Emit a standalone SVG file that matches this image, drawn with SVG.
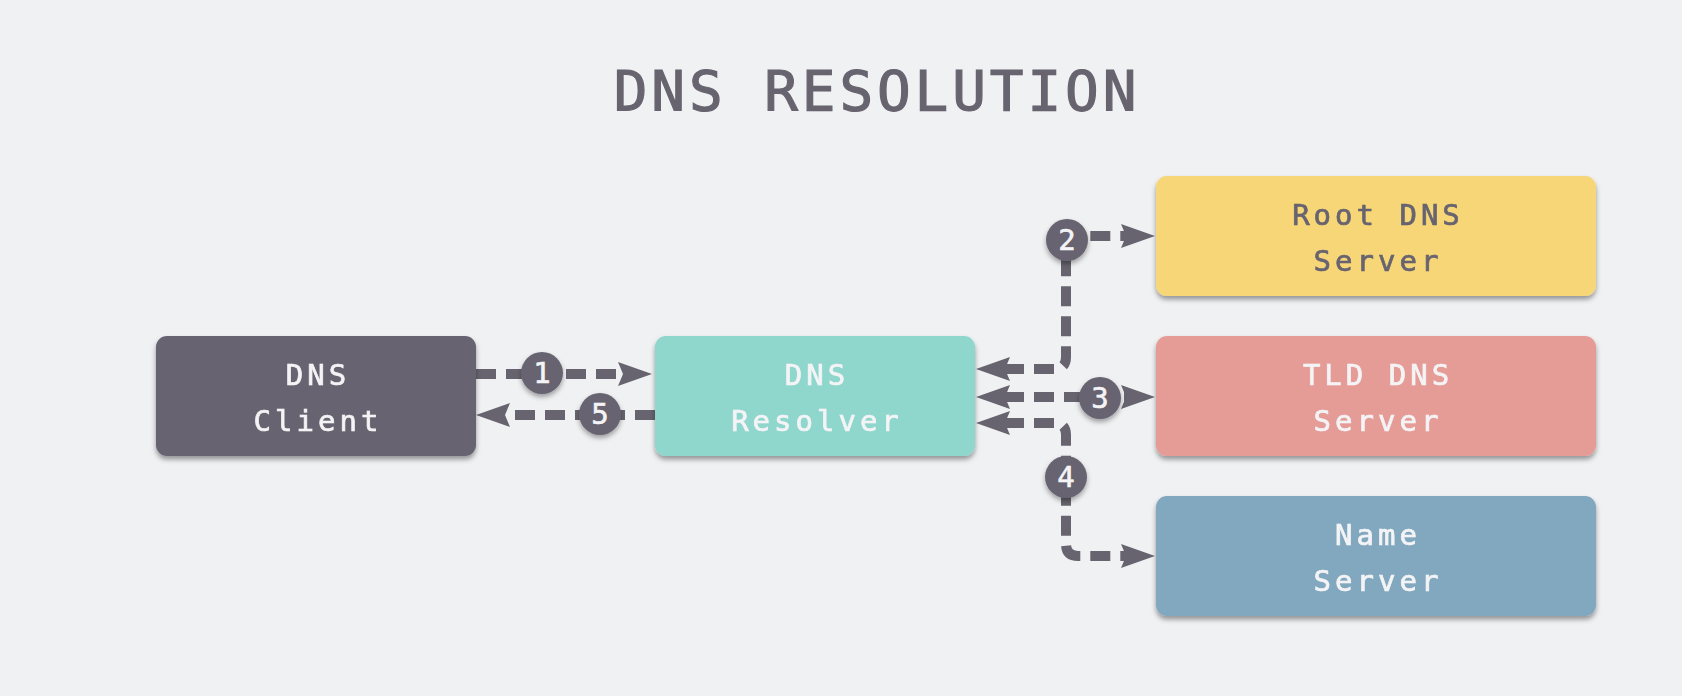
<svg xmlns="http://www.w3.org/2000/svg" width="1682" height="696" viewBox="0 0 1682 696">
<defs>
<style>
.bg{fill:#f0f1f3}
.title{font-family:"DejaVu Sans Mono","Liberation Mono",monospace;font-size:56px;letter-spacing:3.9px;fill:#67646f;stroke:#67646f;stroke-width:1.2px;text-anchor:middle}
.lbl{font-family:"DejaVu Sans Mono","Liberation Mono",monospace;font-size:29px;letter-spacing:4px;text-anchor:middle;stroke-width:0.7px}
.light{fill:#f4f4f6;stroke:#f4f4f6}
.dark{fill:#67646f;stroke:#67646f}
.node{filter:url(#sh)}
.conn{fill:none;stroke:#67646f;stroke-width:10;stroke-dasharray:20 10;marker-end:url(#ah)}
.both{marker-start:url(#ah)}
.badge{fill:#67646f;filter:url(#sh2)}
.num{font-family:"DejaVu Sans Mono","Liberation Mono",monospace;font-size:29px;fill:#f4f4f6;stroke:#f4f4f6;stroke-width:0.6px;text-anchor:middle}
</style>
<filter id="sh" x="-10%" y="-20%" width="120%" height="150%">
<feDropShadow dx="0" dy="3.5" stdDeviation="2.5" flood-color="#000" flood-opacity="0.38"/>
</filter>
<filter id="sh2" x="-50%" y="-50%" width="200%" height="200%">
<feDropShadow dx="0" dy="3" stdDeviation="2.5" flood-color="#000" flood-opacity="0.35"/>
</filter>
<marker id="ah" markerUnits="userSpaceOnUse" markerWidth="36" markerHeight="26" refX="6" refY="12" orient="auto-start-reverse" overflow="visible">
<path d="M0,0 L34,12 L0,24 L5,12 Z" fill="#67646f"/>
</marker>
</defs>
<rect class="bg" x="0" y="0" width="1682" height="696"/>
<text class="title" x="877" y="110">DNS RESOLUTION</text>

<g id="connectors">
<path id="c1" class="conn" d="M476,374 L624,374"/>
<path id="c5" class="conn" d="M655,415 L504,415"/>
<path id="c2" class="conn both" d="M1004,369 H1054 Q1066,369 1066,357 V248 Q1066,236 1078,236 H1127"/>
<path id="c3" class="conn both" d="M1004,397 H1127"/>
<path id="c4" class="conn both" d="M1004,423 H1054 Q1066,423 1066,435 V544 Q1066,556 1078,556 H1127"/>
</g>

<g id="node-client" class="node">
<rect x="156" y="336" width="320" height="120" rx="11" fill="#67646f"/>
<text class="lbl light" x="318" y="385">DNS</text>
<text class="lbl light" x="318" y="431">Client</text>
</g>
<g id="node-resolver" class="node">
<rect x="655" y="336" width="320" height="120" rx="11" fill="#8fd6cd"/>
<text class="lbl light" x="817" y="385">DNS</text>
<text class="lbl light" x="817" y="431">Resolver</text>
</g>
<g id="node-root" class="node">
<rect x="1156" y="176" width="440" height="120" rx="11" fill="#f7d677"/>
<text class="lbl dark" x="1378" y="225">Root DNS</text>
<text class="lbl dark" x="1378" y="271">Server</text>
</g>
<g id="node-tld" class="node">
<rect x="1156" y="336" width="440" height="120" rx="11" fill="#e69c96"/>
<text class="lbl light" x="1378" y="385">TLD DNS</text>
<text class="lbl light" x="1378" y="431">Server</text>
</g>
<g id="node-name" class="node">
<rect x="1156" y="496" width="440" height="120" rx="11" fill="#81a8bf"/>
<text class="lbl light" x="1378" y="545">Name</text>
<text class="lbl light" x="1378" y="591">Server</text>
</g>

<g id="badge-1"><circle class="badge" cx="542" cy="373" r="21"/><text class="num" x="542" y="383">1</text></g>
<g id="badge-5"><circle class="badge" cx="600" cy="414" r="21"/><text class="num" x="600" y="424">5</text></g>
<g id="badge-2"><circle class="badge" cx="1067" cy="240" r="21"/><text class="num" x="1067" y="250">2</text></g>
<g id="badge-3"><circle class="badge" cx="1100" cy="398" r="21"/><text class="num" x="1100" y="408">3</text></g>
<g id="badge-4"><circle class="badge" cx="1066" cy="477" r="21"/><text class="num" x="1066" y="487">4</text></g>
</svg>
